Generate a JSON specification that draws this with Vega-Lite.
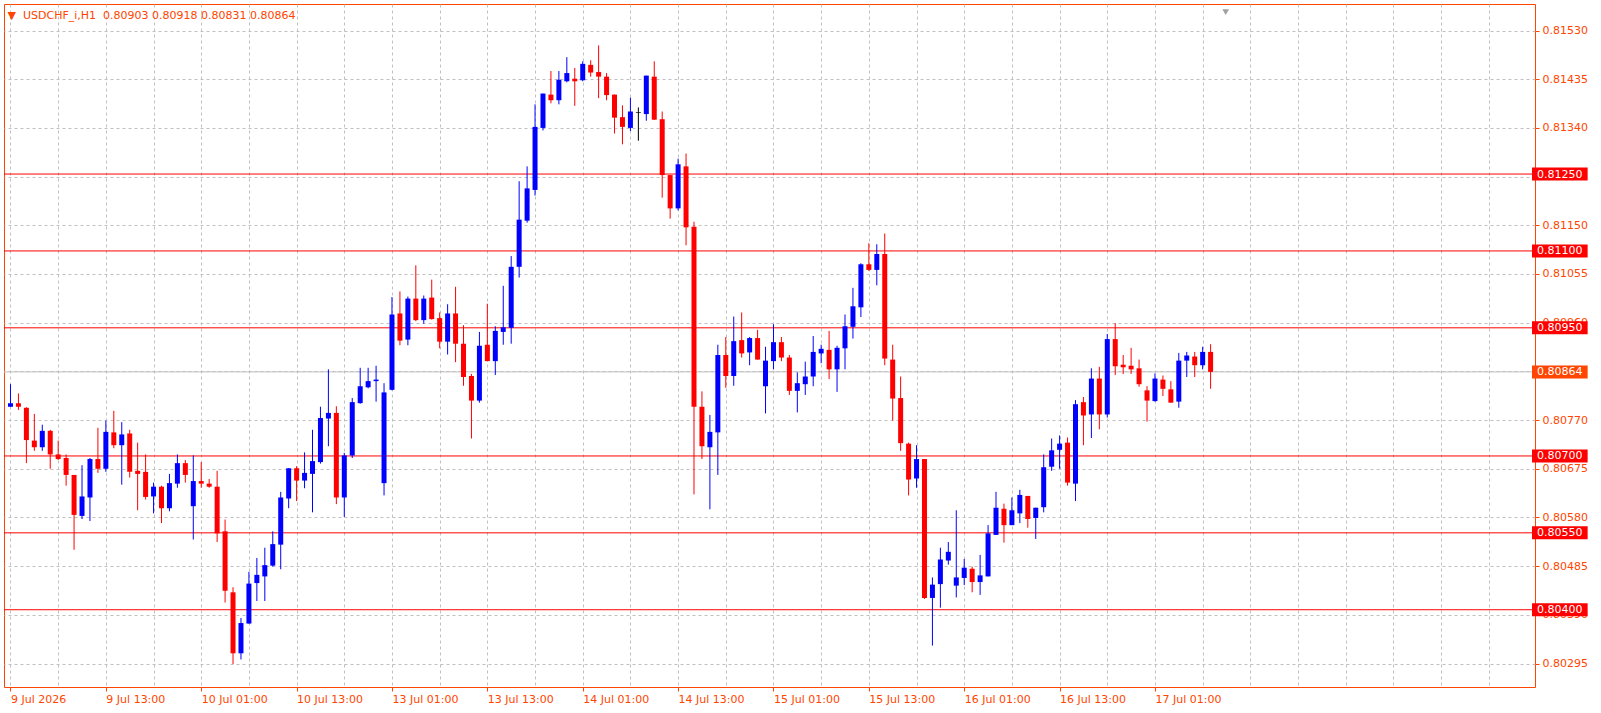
{
  "$schema": "https://vega.github.io/schema/vega-lite/v6.json",
  "width": 1531,
  "height": 683,
  "autosize": {"type": "none"},
  "padding": {"left": 4, "top": 4, "right": 66, "bottom": 26},
  "background": "#FFFFFF",
  "title": {
    "text": "▼\u00a0\u00a0USDCHF_i,H1\u00a0\u00a00.80903\u00a00.80918\u00a00.80831\u00a00.80864",
    "anchor": "start",
    "frame": "group",
    "offset": -26,
    "baseline": "alphabetic",
    "font": "DejaVu Sans",
    "fontSize": 11,
    "fontWeight": "normal",
    "color": "#FF4500",
    "dx": 3.5
  },
  "config": {
    "view": {"stroke": "#FF4500", "strokeWidth": 1},
    "axis": {"labelFont": "DejaVu Sans", "labelFontSize": 11}
  },
  "datasets": {
    "candles": [
      {"i":0,"o":0.80796,"h":0.8084,"l":0.80796,"c":0.80803},
      {"i":1,"o":0.80803,"h":0.80822,"l":0.8079,"c":0.80796},
      {"i":2,"o":0.80794,"h":0.80795,"l":0.80686,"c":0.80731},
      {"i":3,"o":0.8073,"h":0.80782,"l":0.8071,"c":0.80717},
      {"i":4,"o":0.80717,"h":0.80761,"l":0.8071,"c":0.80749},
      {"i":5,"o":0.80749,"h":0.80751,"l":0.80675,"c":0.80703},
      {"i":6,"o":0.80703,"h":0.8073,"l":0.80692,"c":0.80694},
      {"i":7,"o":0.80696,"h":0.80703,"l":0.80642,"c":0.80663},
      {"i":8,"o":0.80663,"h":0.80663,"l":0.80517,"c":0.80585},
      {"i":9,"o":0.80583,"h":0.80682,"l":0.80577,"c":0.80621},
      {"i":10,"o":0.80619,"h":0.80696,"l":0.80573,"c":0.80694},
      {"i":11,"o":0.80694,"h":0.80755,"l":0.80667,"c":0.80675},
      {"i":12,"o":0.80675,"h":0.80769,"l":0.80669,"c":0.80747},
      {"i":13,"o":0.80746,"h":0.80788,"l":0.80715,"c":0.80721},
      {"i":14,"o":0.80721,"h":0.80766,"l":0.80644,"c":0.80742},
      {"i":15,"o":0.80744,"h":0.80751,"l":0.80658,"c":0.80669},
      {"i":16,"o":0.80671,"h":0.80726,"l":0.80594,"c":0.80665},
      {"i":17,"o":0.80669,"h":0.80703,"l":0.80615,"c":0.8062},
      {"i":18,"o":0.80621,"h":0.80648,"l":0.80588,"c":0.8064},
      {"i":19,"o":0.8064,"h":0.80642,"l":0.80569,"c":0.80598},
      {"i":20,"o":0.80598,"h":0.80665,"l":0.80592,"c":0.80647},
      {"i":21,"o":0.80646,"h":0.80703,"l":0.80638,"c":0.80686},
      {"i":22,"o":0.80686,"h":0.80692,"l":0.80648,"c":0.80663},
      {"i":23,"o":0.80602,"h":0.80701,"l":0.80537,"c":0.80651},
      {"i":24,"o":0.80651,"h":0.80688,"l":0.80638,"c":0.80646},
      {"i":25,"o":0.80646,"h":0.80655,"l":0.80638,"c":0.8064},
      {"i":26,"o":0.8064,"h":0.80671,"l":0.80532,"c":0.80549},
      {"i":27,"o":0.80553,"h":0.80576,"l":0.80414,"c":0.80437},
      {"i":28,"o":0.80434,"h":0.80444,"l":0.80294,"c":0.80315},
      {"i":29,"o":0.80315,"h":0.80384,"l":0.80303,"c":0.80374},
      {"i":30,"o":0.80373,"h":0.80474,"l":0.80373,"c":0.80451},
      {"i":31,"o":0.80452,"h":0.80501,"l":0.80417,"c":0.80468},
      {"i":32,"o":0.80465,"h":0.80521,"l":0.80417,"c":0.80487},
      {"i":33,"o":0.80486,"h":0.80553,"l":0.80484,"c":0.80528},
      {"i":34,"o":0.80527,"h":0.8063,"l":0.80479,"c":0.80619},
      {"i":35,"o":0.80617,"h":0.80676,"l":0.80598,"c":0.80676},
      {"i":36,"o":0.80676,"h":0.8068,"l":0.80612,"c":0.80652},
      {"i":37,"o":0.80652,"h":0.80707,"l":0.80637,"c":0.80667},
      {"i":38,"o":0.80665,"h":0.80751,"l":0.8059,"c":0.8069},
      {"i":39,"o":0.80688,"h":0.80796,"l":0.80685,"c":0.80774},
      {"i":40,"o":0.80773,"h":0.80869,"l":0.80719,"c":0.80784},
      {"i":41,"o":0.80784,"h":0.80797,"l":0.80606,"c":0.80619},
      {"i":42,"o":0.80619,"h":0.80706,"l":0.80581,"c":0.80701},
      {"i":43,"o":0.80701,"h":0.80813,"l":0.80696,"c":0.80805},
      {"i":44,"o":0.80803,"h":0.80872,"l":0.80802,"c":0.80836},
      {"i":45,"o":0.80834,"h":0.80872,"l":0.80832,"c":0.80846},
      {"i":46,"o":0.80846,"h":0.80876,"l":0.80806,"c":0.80849},
      {"i":47,"o":0.80647,"h":0.80842,"l":0.80623,"c":0.80824},
      {"i":48,"o":0.80829,"h":0.8101,"l":0.80828,"c":0.80976},
      {"i":49,"o":0.80978,"h":0.81021,"l":0.80916,"c":0.80925},
      {"i":50,"o":0.80927,"h":0.81011,"l":0.80916,"c":0.81007},
      {"i":51,"o":0.81007,"h":0.81072,"l":0.80963,"c":0.80965},
      {"i":52,"o":0.80965,"h":0.81013,"l":0.80958,"c":0.81007},
      {"i":53,"o":0.81009,"h":0.81044,"l":0.80966,"c":0.80967},
      {"i":54,"o":0.80969,"h":0.8098,"l":0.8091,"c":0.80923},
      {"i":55,"o":0.80923,"h":0.80996,"l":0.80898,"c":0.80978},
      {"i":56,"o":0.80978,"h":0.8103,"l":0.80883,"c":0.80919},
      {"i":57,"o":0.80919,"h":0.80955,"l":0.80837,"c":0.80854},
      {"i":58,"o":0.80856,"h":0.8086,"l":0.80734,"c":0.80808},
      {"i":59,"o":0.80808,"h":0.80942,"l":0.80804,"c":0.80915},
      {"i":60,"o":0.80917,"h":0.80997,"l":0.80885,"c":0.80885},
      {"i":61,"o":0.80885,"h":0.80953,"l":0.80858,"c":0.80944},
      {"i":62,"o":0.80942,"h":0.81032,"l":0.80917,"c":0.80951},
      {"i":63,"o":0.8095,"h":0.8109,"l":0.80919,"c":0.81069},
      {"i":64,"o":0.81069,"h":0.81236,"l":0.81048,"c":0.81161},
      {"i":65,"o":0.81159,"h":0.81265,"l":0.81155,"c":0.81222},
      {"i":66,"o":0.81219,"h":0.81386,"l":0.81208,"c":0.81342},
      {"i":67,"o":0.8134,"h":0.81407,"l":0.81335,"c":0.81407},
      {"i":68,"o":0.81405,"h":0.81451,"l":0.81388,"c":0.81394},
      {"i":69,"o":0.81394,"h":0.81451,"l":0.81386,"c":0.81434},
      {"i":70,"o":0.81431,"h":0.81478,"l":0.81429,"c":0.81447},
      {"i":71,"o":0.81436,"h":0.81457,"l":0.81383,"c":0.81431},
      {"i":72,"o":0.81433,"h":0.8147,"l":0.81431,"c":0.81465},
      {"i":73,"o":0.81463,"h":0.81472,"l":0.8144,"c":0.81448},
      {"i":74,"o":0.81449,"h":0.81501,"l":0.81398,"c":0.8144},
      {"i":75,"o":0.8144,"h":0.81447,"l":0.81394,"c":0.81404},
      {"i":76,"o":0.81405,"h":0.81405,"l":0.81329,"c":0.8136},
      {"i":77,"o":0.81361,"h":0.81384,"l":0.81308,"c":0.81342},
      {"i":78,"o":0.8134,"h":0.81399,"l":0.81334,"c":0.81372},
      {"i":79,"o":0.8137,"h":0.8138,"l":0.81315,"c":0.8137},
      {"i":80,"o":0.81367,"h":0.81442,"l":0.81354,"c":0.81442},
      {"i":81,"o":0.8144,"h":0.8147,"l":0.81356,"c":0.81356},
      {"i":82,"o":0.81357,"h":0.81372,"l":0.81204,"c":0.81248},
      {"i":83,"o":0.81248,"h":0.81248,"l":0.81163,"c":0.81183},
      {"i":84,"o":0.81183,"h":0.8128,"l":0.81179,"c":0.81269},
      {"i":85,"o":0.81265,"h":0.8129,"l":0.81111,"c":0.81146},
      {"i":86,"o":0.81147,"h":0.81157,"l":0.80625,"c":0.80796},
      {"i":87,"o":0.80796,"h":0.80826,"l":0.80694,"c":0.80719},
      {"i":88,"o":0.80717,"h":0.8078,"l":0.80596,"c":0.80747},
      {"i":89,"o":0.80746,"h":0.80917,"l":0.80663,"c":0.80897},
      {"i":90,"o":0.80897,"h":0.80932,"l":0.80833,"c":0.80856},
      {"i":91,"o":0.80856,"h":0.80972,"l":0.80837,"c":0.80924},
      {"i":92,"o":0.80926,"h":0.8098,"l":0.80892,"c":0.809},
      {"i":93,"o":0.80902,"h":0.80932,"l":0.80877,"c":0.8093},
      {"i":94,"o":0.8093,"h":0.80946,"l":0.80888,"c":0.80888},
      {"i":95,"o":0.80836,"h":0.80913,"l":0.80783,"c":0.80886},
      {"i":96,"o":0.80885,"h":0.80957,"l":0.80869,"c":0.80922},
      {"i":97,"o":0.80922,"h":0.80932,"l":0.80885,"c":0.80892},
      {"i":98,"o":0.80892,"h":0.80897,"l":0.80819,"c":0.80827},
      {"i":99,"o":0.80827,"h":0.80863,"l":0.80785,"c":0.80842},
      {"i":100,"o":0.8084,"h":0.80884,"l":0.80819,"c":0.80855},
      {"i":101,"o":0.80855,"h":0.80934,"l":0.80836,"c":0.80903},
      {"i":102,"o":0.809,"h":0.80917,"l":0.80881,"c":0.80909},
      {"i":103,"o":0.80907,"h":0.80944,"l":0.8085,"c":0.80869},
      {"i":104,"o":0.80869,"h":0.80915,"l":0.80825,"c":0.80911},
      {"i":105,"o":0.8091,"h":0.80976,"l":0.80869,"c":0.80953},
      {"i":106,"o":0.80952,"h":0.81028,"l":0.80929,"c":0.80992},
      {"i":107,"o":0.8099,"h":0.81076,"l":0.80971,"c":0.81074},
      {"i":108,"o":0.81074,"h":0.81115,"l":0.81061,"c":0.81063},
      {"i":109,"o":0.81063,"h":0.81113,"l":0.81033,"c":0.81094},
      {"i":110,"o":0.81094,"h":0.81134,"l":0.80877,"c":0.8089},
      {"i":111,"o":0.80888,"h":0.80917,"l":0.80769,"c":0.80812},
      {"i":112,"o":0.80813,"h":0.80855,"l":0.8071,"c":0.80725},
      {"i":113,"o":0.80724,"h":0.80726,"l":0.80623,"c":0.80654},
      {"i":114,"o":0.80656,"h":0.80721,"l":0.80638,"c":0.80694},
      {"i":115,"o":0.80694,"h":0.80694,"l":0.80421,"c":0.80423},
      {"i":116,"o":0.80423,"h":0.80463,"l":0.8033,"c":0.80449},
      {"i":117,"o":0.8045,"h":0.80521,"l":0.80404,"c":0.80498},
      {"i":118,"o":0.80496,"h":0.80532,"l":0.80488,"c":0.80513},
      {"i":119,"o":0.80447,"h":0.80594,"l":0.80424,"c":0.80463},
      {"i":120,"o":0.80462,"h":0.80499,"l":0.80448,"c":0.80482},
      {"i":121,"o":0.8048,"h":0.80484,"l":0.80434,"c":0.80454},
      {"i":122,"o":0.80454,"h":0.80507,"l":0.80429,"c":0.80467},
      {"i":123,"o":0.80465,"h":0.80565,"l":0.80465,"c":0.80549},
      {"i":124,"o":0.80546,"h":0.8063,"l":0.80546,"c":0.80599},
      {"i":125,"o":0.80597,"h":0.80607,"l":0.80531,"c":0.80565},
      {"i":126,"o":0.80565,"h":0.80619,"l":0.80565,"c":0.80594},
      {"i":127,"o":0.80588,"h":0.80634,"l":0.80569,"c":0.80624},
      {"i":128,"o":0.80622,"h":0.80622,"l":0.8056,"c":0.80577},
      {"i":129,"o":0.80579,"h":0.80599,"l":0.80538,"c":0.80599},
      {"i":130,"o":0.806,"h":0.80703,"l":0.8059,"c":0.80678},
      {"i":131,"o":0.80679,"h":0.80734,"l":0.80671,"c":0.80711},
      {"i":132,"o":0.80712,"h":0.8074,"l":0.80675,"c":0.80724},
      {"i":133,"o":0.80726,"h":0.80736,"l":0.80642,"c":0.80648},
      {"i":134,"o":0.80646,"h":0.80809,"l":0.80612,"c":0.80801},
      {"i":135,"o":0.80805,"h":0.80815,"l":0.80721,"c":0.80779},
      {"i":136,"o":0.80781,"h":0.80871,"l":0.80735,"c":0.80851},
      {"i":137,"o":0.80851,"h":0.80874,"l":0.80752,"c":0.80781},
      {"i":138,"o":0.80781,"h":0.80938,"l":0.80775,"c":0.80928},
      {"i":139,"o":0.80928,"h":0.80959,"l":0.80858,"c":0.80875},
      {"i":140,"o":0.80878,"h":0.80897,"l":0.8086,"c":0.80873},
      {"i":141,"o":0.80876,"h":0.80911,"l":0.8086,"c":0.80869},
      {"i":142,"o":0.80871,"h":0.80888,"l":0.80835,"c":0.8084},
      {"i":143,"o":0.80828,"h":0.80836,"l":0.80767,"c":0.80808},
      {"i":144,"o":0.80807,"h":0.80861,"l":0.80806,"c":0.80851},
      {"i":145,"o":0.80849,"h":0.80857,"l":0.80817,"c":0.80831},
      {"i":146,"o":0.8083,"h":0.80846,"l":0.80804,"c":0.80804},
      {"i":147,"o":0.80806,"h":0.80901,"l":0.80794,"c":0.80886},
      {"i":148,"o":0.80886,"h":0.80903,"l":0.80854,"c":0.80896},
      {"i":149,"o":0.80894,"h":0.80903,"l":0.80854,"c":0.80877},
      {"i":150,"o":0.80877,"h":0.80913,"l":0.80869,"c":0.80903},
      {"i":151,"o":0.80903,"h":0.80918,"l":0.80831,"c":0.80864}
    ],
    "tags": [
      {"p":0.8125,"kind":"level"},
      {"p":0.811,"kind":"level"},
      {"p":0.8095,"kind":"level"},
      {"p":0.807,"kind":"level"},
      {"p":0.8055,"kind":"level"},
      {"p":0.804,"kind":"level"},
      {"p":0.80864,"kind":"bid"}
    ]
  },
  "layer": [
    {
      "data": {"name": "candles"},
      "mark": {"type": "rule", "strokeWidth": 1, "opacity": 0},
      "encoding": {
        "x": {
          "field": "i", "type": "quantitative", "title": null,
          "scale": {"domain": [-0.1875, 191.1875], "nice": false, "zero": false},
          "axis": {
            "orient": "bottom",
            "values": [0,6,12,18,24,30,36,42,48,54,60,66,72,78,84,90,96,102,108,114,120,126,132,138,144,150,156,162,168,174,180,186],
            "labelExpr": "(datum.value % 12 == 0 && datum.value <= 144) ? ['9 Jul 2026','9 Jul 13:00','10 Jul 01:00','10 Jul 13:00','13 Jul 01:00','13 Jul 13:00','14 Jul 01:00','14 Jul 13:00','15 Jul 01:00','15 Jul 13:00','16 Jul 01:00','16 Jul 13:00','17 Jul 01:00'][datum.value / 12] : ''",
            "labelAlign": "left",
            "labelBaseline": "top",
            "labelPadding": 2,
            "labelColor": "#FF4500",
            "labelFlush": false,
            "labelOverlap": false,
            "labelBound": false,
            "tickColor": "#FF4500",
            "tickSize": 4,
            "tickOpacity": {"condition": {"test": "datum.value % 12 == 0 && datum.value <= 144", "value": 1}, "value": 0},
            "domain": false,
            "grid": true,
            "gridColor": "#C0C0C0",
            "gridDash": [3, 3],
            "title": null
          }
        },
        "y": {
          "field": "l", "type": "quantitative", "title": null,
          "scale": {"domain": [0.80259, 0.81572], "nice": false, "zero": false},
          "axis": {
            "orient": "right",
            "values": [0.8153, 0.81435, 0.8134, 0.81245, 0.8115, 0.81055, 0.8096, 0.80865, 0.8077, 0.80675, 0.8058, 0.80485, 0.8039, 0.80295],
            "format": ".5f",
            "labelColor": "#FF4500",
            "labelPadding": 3,
            "labelBaseline": "middle",
            "labelOverlap": false,
            "labelBound": false,
            "labelFlush": false,
            "tickColor": "#FF4500",
            "tickSize": 4,
            "domain": false,
            "grid": true,
            "gridColor": "#C0C0C0",
            "gridDash": [3, 3],
            "title": null
          }
        },
        "y2": {"field": "h"}
      }
    },
    {
      "data": {"name": "tags"},
      "transform": [{"filter": "datum.kind == 'bid'"}],
      "mark": {"type": "rule", "color": "#C0C0C0", "strokeWidth": 1},
      "encoding": {
        "y": {"field": "p", "type": "quantitative", "title": null, "scale": {"domain": [0.80259, 0.81572], "nice": false, "zero": false}}
      }
    },
    {
      "data": {"name": "tags"},
      "transform": [{"filter": "datum.kind == 'level'"}],
      "mark": {"type": "rule", "color": "#FF0000", "strokeWidth": 1},
      "encoding": {
        "y": {"field": "p", "type": "quantitative", "title": null, "scale": {"domain": [0.80259, 0.81572], "nice": false, "zero": false}}
      }
    },
    {
      "data": {"name": "candles"},
      "mark": {"type": "rule", "strokeWidth": 1},
      "encoding": {
        "x": {"field": "i", "type": "quantitative", "title": null, "scale": {"domain": [-0.1875, 191.1875], "nice": false, "zero": false}},
        "y": {"field": "l", "type": "quantitative", "title": null, "scale": {"domain": [0.80259, 0.81572], "nice": false, "zero": false}},
        "y2": {"field": "h"},
        "color": {
          "condition": [
            {"test": "datum.c > datum.o", "value": "#0000FF"},
            {"test": "datum.c == datum.o", "value": "#000000"}
          ],
          "value": "#FF0000"
        }
      }
    },
    {
      "data": {"name": "candles"},
      "mark": {"type": "bar", "size": 5},
      "encoding": {
        "x": {"field": "i", "type": "quantitative", "title": null, "scale": {"domain": [-0.1875, 191.1875], "nice": false, "zero": false}},
        "y": {"field": "o", "type": "quantitative", "title": null, "scale": {"domain": [0.80259, 0.81572], "nice": false, "zero": false}},
        "y2": {"field": "c"},
        "color": {
          "condition": [
            {"test": "datum.c > datum.o", "value": "#0000FF"},
            {"test": "datum.c == datum.o", "value": "#000000"}
          ],
          "value": "#FF0000"
        }
      }
    },
    {
      "data": {"name": "candles"},
      "transform": [{"filter": "datum.o == datum.c"}],
      "mark": {"type": "tick", "orient": "horizontal", "size": 5, "thickness": 1, "color": "#000000"},
      "encoding": {
        "x": {"field": "i", "type": "quantitative", "title": null, "scale": {"domain": [-0.1875, 191.1875], "nice": false, "zero": false}},
        "y": {"field": "o", "type": "quantitative", "title": null, "scale": {"domain": [0.80259, 0.81572], "nice": false, "zero": false}}
      }
    },
    {
      "data": {"values": [{"marker": "shift"}]},
      "mark": {"type": "point", "shape": "triangle-down", "filled": true, "size": 45, "color": "#A0A0A0", "opacity": 1},
      "encoding": {
        "x": {"datum": 152.9, "type": "quantitative", "title": null, "scale": {"domain": [-0.1875, 191.1875], "nice": false, "zero": false}},
        "y": {"datum": 0.81566, "type": "quantitative", "title": null, "scale": {"domain": [0.80259, 0.81572], "nice": false, "zero": false}}
      }
    },
    {
      "data": {"name": "tags"},
      "mark": {"type": "bar", "orient": "horizontal", "size": 13},
      "encoding": {
        "x": {"datum": 191.44, "type": "quantitative", "title": null, "scale": {"domain": [-0.1875, 191.1875], "nice": false, "zero": false}},
        "x2": {"datum": 198.44},
        "y": {"field": "p", "type": "quantitative", "title": null, "scale": {"domain": [0.80259, 0.81572], "nice": false, "zero": false}},
        "color": {"condition": {"test": "datum.kind == 'bid'", "value": "#FF4500"}, "value": "#FF0000"}
      }
    },
    {
      "data": {"name": "tags"},
      "mark": {"type": "text", "align": "left", "baseline": "middle", "font": "DejaVu Sans", "fontSize": 11, "color": "#FFFFFF", "dy": 0.5},
      "encoding": {
        "x": {"datum": 192.06, "type": "quantitative", "title": null, "scale": {"domain": [-0.1875, 191.1875], "nice": false, "zero": false}},
        "y": {"field": "p", "type": "quantitative", "title": null, "scale": {"domain": [0.80259, 0.81572], "nice": false, "zero": false}},
        "text": {"field": "p", "type": "quantitative", "format": ".5f"}
      }
    }
  ]
}
